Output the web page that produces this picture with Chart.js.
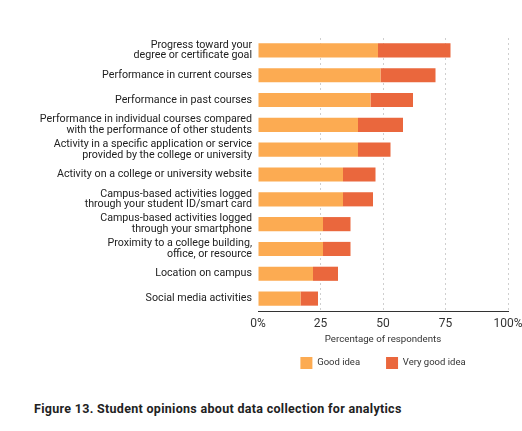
<!DOCTYPE html>
<html>
<head>
<meta charset="utf-8">
<script src="https://cdn.jsdelivr.net/npm/chart.js@4"></script>
<style>
  body { margin: 0; background: #fff; }
  #wrap { position: relative; width: 522px; height: 431px; }
  #caption { position: absolute; left: 34px; top: 401px; font: bold 12.5px Roboto, sans-serif; letter-spacing: 0.3px; color: #222; }
</style>
</head>
<body>
<div id="wrap">
  <canvas id="c" width="522" height="379"></canvas>
  <div id="caption">Figure 13. Student opinions about data collection for analytics</div>
</div>
<script>
// categories, top to bottom
const categories = [
    ['Progress toward your', 'degree or certificate goal'],
    'Performance in current courses',
    'Performance in past courses',
    ['Performance in individual courses compared', 'with the performance of other students'],
    ['Activity in a specific application or service', 'provided by the college or university'],
    'Activity on a college or university website',
    ['Campus-based activities logged', 'through your student ID/smart card'],
    ['Campus-based activities logged', 'through your smartphone'],
    ['Proximity to a college building,', 'office, or resource'],
    'Location on campus',
    'Social media activities'
];
const goodIdea     = [48, 49, 45, 40, 40, 34, 34, 26, 26, 22, 17];
const veryGoodIdea = [29, 22, 17, 18, 13, 13, 12, 11, 11, 10, 7];
const xTicks = [0, 25, 50, 75, 100];

const font = 'Roboto, sans-serif';

new Chart(document.getElementById('c'), {
    type: 'bar',
    data: {
        labels: categories,
        datasets: [
            { label: 'Good idea', data: goodIdea, backgroundColor: '#FCAB52', barPercentage: 0.57, categoryPercentage: 1 },
            { label: 'Very good idea', data: veryGoodIdea, backgroundColor: '#EA673D', barPercentage: 0.57, categoryPercentage: 1 }
        ]
    },
    options: {
        indexAxis: 'y',
        responsive: false,
        animation: false,
        layout: { padding: { top: 38, right: 0, left: 0, bottom: 0 } },
        scales: {
            x: {
                stacked: true, min: 0, max: 100,
                afterBuildTicks: (ax) => { ax.ticks = xTicks.map(v => ({ value: v })); },
                // fixed box so the legend sits close under the axis title
                afterFit: (s) => { s.paddingRight = 14; s.height = 20; },
                ticks: { callback: (v) => (v === 0 || v === 100) ? v + '%' : v, font: { family: font, size: 12 }, color: '#333', padding: 6, maxRotation: 0 },
                grid: { drawTicks: false, lineWidth: 1, color: (ctx) => ctx.tick && ctx.tick.value === 0 ? 'rgba(0,0,0,0)' : '#cfcfcf' },
                border: { color: '#333', width: 1, dash: [2, 3] },
                title: { display: true, text: 'Percentage of respondents', font: { family: font, size: 9.7 }, color: '#333', padding: { top: 0, bottom: -14 } }
            },
            y: {
                stacked: true,
                afterFit: (s) => { s.width = 258; },
                ticks: { autoSkip: false, font: { family: font, size: 10.7, lineHeight: 1.0 }, color: '#222', padding: 6 },
                grid: { display: false, drawTicks: false },
                border: { display: false }
            }
        },
        plugins: {
            legend: {
                position: 'bottom', fullSize: false,
                labels: { boxWidth: 12, boxHeight: 12, padding: 26, font: { family: font, size: 9.5 }, color: '#333' }
            },
            tooltip: { enabled: false }
        }
    }
});
</script>
</body>
</html>
